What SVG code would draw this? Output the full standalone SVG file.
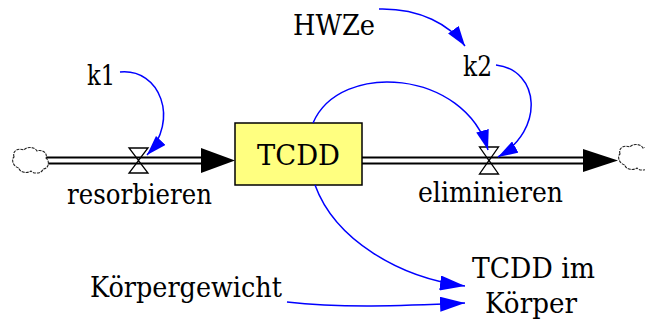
<svg xmlns="http://www.w3.org/2000/svg" width="645" height="328" viewBox="0 0 645 328">
  <style>
    text { font-family: 'DejaVu Serif', serif; fill: #000; text-anchor: middle; }
    .lbl { font-size: 28px; }
    .pipe-outer { stroke: #000; stroke-width: 8; fill: none; }
    .pipe-inner { stroke: #fff; stroke-width: 4; fill: none; }
    .valve { fill: none; stroke: #000; stroke-width: 1.3; }
    .cloud { fill: #fff; stroke: #222; stroke-width: 1.1; stroke-dasharray: 3 1; }
    .link { fill: none; stroke: #0000ff; stroke-width: 1.5; }
  </style>
  <defs>
    <marker id="arrowSmall" markerUnits="userSpaceOnUse" viewBox="0 0 20 13" refX="20" refY="6.5" markerWidth="20" markerHeight="13" orient="auto">
      <path d="M0,0 L20,6.5 L0,13 Z" fill="#0000ff"/>
    </marker>
    <marker id="arrowLarge" markerUnits="userSpaceOnUse" viewBox="0 0 25 15" refX="25" refY="7.5" markerWidth="25" markerHeight="15" orient="auto">
      <path d="M0,0 L25,7.5 L0,15 Z" fill="#0000ff"/>
    </marker>
    <!-- source/sink cloud, about 34 x 26 around its origin -->
    <path id="cloudShape" d="M-15,-5 c-2,-7 5,-9 10,-7 c3,-4 11,-3 13,1 c5,-2 11,2 9,7 c4,3 3,11 -3,11 c-1,5 -10,5 -12,2 c-4,3 -12,1 -12,-3 c-6,-1 -8,-9 -5,-11 z"/>
  </defs>

  <!-- flows: pipes, valves, clouds -->
  <g id="flow-resorbieren">
    <line class="pipe-outer" x1="42" y1="160.5" x2="203" y2="160.5"/>
    <line class="pipe-inner" x1="42" y1="160.5" x2="203" y2="160.5"/>
    <polygon points="201,148 235,160.5 201,173" fill="#000"/>
    <polygon class="valve" points="129,148 148,148 138.5,160.5"/>
    <polygon class="valve" points="129,173 148,173 138.5,160.5"/>
    <use href="#cloudShape" class="cloud" x="29" y="162"/>
    <text class="lbl" x="139.5" y="204" textLength="145" lengthAdjust="spacingAndGlyphs">resorbieren</text>
  </g>

  <g id="flow-eliminieren">
    <line class="pipe-outer" x1="362" y1="160.5" x2="585" y2="160.5"/>
    <line class="pipe-inner" x1="362" y1="160.5" x2="585" y2="160.5"/>
    <polygon points="583,149 618,160.5 583,172" fill="#000"/>
    <polygon class="valve" points="479.5,147 498.5,147 489,160.5"/>
    <polygon class="valve" points="479.5,174 498.5,174 489,160.5"/>
    <use href="#cloudShape" class="cloud" x="635" y="159"/>
    <text class="lbl" x="490.5" y="202" textLength="145" lengthAdjust="spacingAndGlyphs">eliminieren</text>
  </g>

  <!-- stock -->
  <g id="stock-TCDD">
    <rect x="235" y="123" width="127" height="62" fill="#ffff80" stroke="#000" stroke-width="1.5"/>
    <text class="lbl" x="298.5" y="165" textLength="83" lengthAdjust="spacingAndGlyphs">TCDD</text>
  </g>

  <!-- auxiliaries -->
  <g id="aux-k1"><text class="lbl" x="101" y="85" textLength="28" lengthAdjust="spacingAndGlyphs">k1</text></g>
  <g id="aux-HWZe"><text class="lbl" x="334" y="35" textLength="82" lengthAdjust="spacingAndGlyphs">HWZe</text></g>
  <g id="aux-k2"><text class="lbl" x="477.5" y="76" textLength="29" lengthAdjust="spacingAndGlyphs">k2</text></g>
  <g id="aux-Koerpergewicht"><text class="lbl" x="186" y="297" textLength="192" lengthAdjust="spacingAndGlyphs">Körpergewicht</text></g>
  <g id="aux-TCDD-im-Koerper">
    <text class="lbl" x="533.5" y="278" textLength="123" lengthAdjust="spacingAndGlyphs">TCDD im</text>
    <text class="lbl" x="531" y="313" textLength="92" lengthAdjust="spacingAndGlyphs">Körper</text>
  </g>

  <!-- information links -->
  <g id="links">
    <path class="link" marker-end="url(#arrowSmall)" d="M120,72 C160,68 180,120 147,155"/>
    <path class="link" marker-end="url(#arrowSmall)" d="M379,9 C420,8 450,25 465,46"/>
    <path class="link" marker-end="url(#arrowSmall)" d="M496,65 C540,70 545,130 498,157"/>
    <path class="link" marker-end="url(#arrowSmall)" d="M313,123 C340,60 465,70 488,150"/>
    <path class="link" marker-end="url(#arrowLarge)" d="M315,185 C335,240 400,278 465,286"/>
    <path class="link" marker-end="url(#arrowLarge)" d="M287,302 C340,308 400,306 465,303"/>
  </g>
</svg>
